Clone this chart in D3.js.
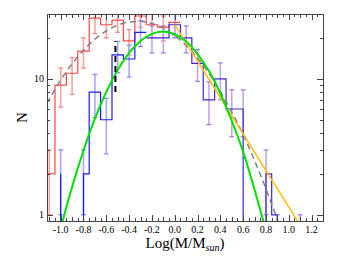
<!DOCTYPE html>
<html>
<head>
<meta charset="utf-8">
<script src="https://cdn.jsdelivr.net/npm/d3@7"></script>
<style>
  body { margin: 0; background: #fff; }
  text { font-family: "Liberation Serif", "DejaVu Serif", serif; fill: #000; }
</style>
</head>
<body>
<div id="chart"></div>
<script>
// red histogram (bin edges in log M, counts)
var redEdges = [-1.15, -1.05, -0.95, -0.85, -0.75, -0.65, -0.55, -0.45, -0.35, -0.25, -0.15, -0.05, 0.05];
var redCounts = [2, 9, 11, 16, 28, 25, 27, 19, 29, 25, 24, 26];
var redErrX = [-1.1, -1.0, -0.9, -0.8, -0.7, -0.6, -0.5, -0.4, -0.3, -0.2, -0.1, 0.0];
var redErrLo = [1.0, 6.2, 7.7, 12, 21.5, 20, 22, 15, 24, 20, 19, 21];
var redErrHi = [3.0, 12, 14.3, 20, 33, 30, 32, 23, 34, 30, 29, 31];

// blue histogram (low-mass part)
var blueEdges = [-1.0, -1.0, -0.8, -0.75, -0.65, -0.55, -0.45, -0.35, -0.25];
var blueCounts = [2, 0, 2, 8, 5, 15, 14, 22];
var blueErrX = [-1.0, -0.8, -0.7, -0.6, -0.5, -0.4, -0.3];
var blueErrLo = [1.0, 1.0, 5.2, 2.8, 11.1, 10.3, 17.3];
var blueErrHi = [3.0, 3.0, 10.8, 7.2, 18.9, 17.7, 26.7];

// indigo histogram (high-mass part)
var indEdges = [-0.25, -0.05, 0.05, 0.15, 0.25, 0.35, 0.45, 0.6, 0.8, 0.85, 0.9];
var indCounts = [20, 25, 20, 13, 7, 10, 6, 0, 2, 1];
var indErrX = [-0.2, -0.1, 0.0, 0.1, 0.2, 0.3, 0.4, 0.5, 0.6, 0.8, 0.9, 1.1];
var indErrLo = [15.5, 15.5, 20, 15.5, 9.6, 4.6, 7.0, 3.75, 3.75, 1.0, 0.5, 0.5];
var indErrHi = [24.5, 24.5, 30, 24.5, 16.4, 9.5, 13.1, 8.3, 8.3, 3.0, 1.0, 1.0];

// fitted curves
var grayX = [-1.12, -1.0, -0.9, -0.8, -0.7, -0.6, -0.5, -0.4, -0.3, -0.2, -0.1, 0.0, 0.1, 0.2, 0.3, 0.4, 0.5, 0.6, 0.7, 0.8, 0.9, 0.95];
var grayN = [6.6, 9.8, 12.9, 16.2, 19.6, 22.5, 24.9, 26.2, 26.5, 25.5, 23.6, 20.8, 17.6, 14.2, 11.0, 8.1, 5.7, 3.9, 2.5, 1.55, 0.92, 0.7];
var greenX = [-0.99, -0.95, -0.9, -0.8, -0.7, -0.6, -0.5, -0.4, -0.3, -0.2, -0.1, 0.0, 0.1, 0.2, 0.3, 0.4, 0.5, 0.6, 0.7, 0.78];
var greenN = [0.85, 1.14, 1.6, 2.97, 5.1, 8.0, 11.6, 15.5, 19.0, 21.4, 22.3, 21.3, 18.8, 15.2, 11.4, 7.8, 4.9, 2.9, 1.53, 0.88];
var orangeX = [0.0, 1.08];
var orangeN = [25.1, 0.89];
var cutX = -0.52;
var cutN = [8, 19];

var xTickLabels = ["-1.0", "-0.8", "-0.6", "-0.4", "-0.2", "0.0", "0.2", "0.4", "0.6", "0.8", "1.0", "1.2"];
var yTickLabels = ["1", "10"];

var width = 337, height = 267;
var margin = {top: 14, right: 14, bottom: 46, left: 47};
var floorN = 0.5;

var svg = d3.select("#chart").append("svg")
    .attr("width", width)
    .attr("height", height);

var x = d3.scaleLinear().domain([-1.12, 1.3]).range([margin.left, width - margin.right]);
var y = d3.scaleLog().domain([0.9, 30]).range([height - margin.bottom, margin.top]);

svg.append("clipPath").attr("id", "clip")
    .append("rect")
    .attr("x", margin.left).attr("y", margin.top)
    .attr("width", width - margin.left - margin.right)
    .attr("height", height - margin.top - margin.bottom);

var plot = svg.append("g").attr("clip-path", "url(#clip)");

function yy(n) { return y(n > 0 ? n : floorN); }

function stepPath(edges, counts, startFloor, endFloor) {
    var pts = [];
    if (startFloor) pts.push([x(edges[0]), yy(0)]);
    counts.forEach(function(c, i) {
        pts.push([x(edges[i]), yy(c)]);
        pts.push([x(edges[i + 1]), yy(c)]);
    });
    if (endFloor) pts.push([x(edges[edges.length - 1]), yy(0)]);
    return d3.line()(pts);
}

function errorBars(xs, lo, hi, stem, cap) {
    var g = plot.append("g");
    xs.forEach(function(xv, i) {
        g.append("line")
            .attr("x1", x(xv)).attr("x2", x(xv))
            .attr("y1", yy(lo[i])).attr("y2", yy(hi[i]))
            .attr("stroke", stem).attr("stroke-width", 1.6);
        [lo[i], hi[i]].forEach(function(v) {
            g.append("line")
                .attr("x1", x(xv) - 2.5).attr("x2", x(xv) + 2.5)
                .attr("y1", yy(v)).attr("y2", yy(v))
                .attr("stroke", cap).attr("stroke-width", 1);
        });
    });
}

// error bars first so histogram lines sit on top
errorBars(redErrX, redErrLo, redErrHi, "#f6a3a3", "#f07070");
errorBars(blueErrX, blueErrLo, blueErrHi, "#a8a8ff", "#7777ff");
errorBars(indErrX, indErrLo, indErrHi, "#c3a6ea", "#9460d8");

plot.append("path")
    .attr("d", stepPath(redEdges, redCounts, false, false))
    .attr("fill", "none").attr("stroke", "#ff4848").attr("stroke-width", 1.2);

plot.append("path")
    .attr("d", stepPath(blueEdges, blueCounts, true, false))
    .attr("fill", "none").attr("stroke", "#1a1aff").attr("stroke-width", 1.2);

plot.append("path")
    .attr("d", stepPath(indEdges, indCounts, false, true))
    .attr("fill", "none").attr("stroke", "#4326d6").attr("stroke-width", 1.2);

var curve = d3.line()
    .x(function(d) { return x(d[0]); })
    .y(function(d) { return y(d[1]); })
    .curve(d3.curveMonotoneX);

plot.append("path")
    .attr("d", curve(grayX.map(function(v, i) { return [v, grayN[i]]; })))
    .attr("fill", "none").attr("stroke", "#808080")
    .attr("stroke-width", 1.5).attr("stroke-dasharray", "6,4");

plot.append("path")
    .attr("d", curve(orangeX.map(function(v, i) { return [v, orangeN[i]]; })))
    .attr("fill", "none").attr("stroke", "#ffbf00").attr("stroke-width", 1.5);

plot.append("path")
    .attr("d", curve(greenX.map(function(v, i) { return [v, greenN[i]]; })))
    .attr("fill", "none").attr("stroke", "#00e000").attr("stroke-width", 2);

plot.append("line")
    .attr("x1", x(cutX)).attr("x2", x(cutX))
    .attr("y1", y(cutN[0])).attr("y2", y(cutN[1]))
    .attr("stroke", "#000").attr("stroke-width", 2)
    .attr("stroke-dasharray", "6,4");

// frame and ticks
var x0 = margin.left, x1 = width - margin.right, y0 = margin.top, y1 = height - margin.bottom;
var axes = svg.append("g").attr("stroke", "#444").attr("stroke-width", 1);

var xTicks = d3.range(-22, 27).map(function(i) { return i * 0.05; });
xTicks.forEach(function(t) {
    var k = Math.round(t * 20);
    var len = (k % 4 === 0) ? 6 : (k % 2 === 0 ? 4 : 3);
    var px = Math.round(x(t)) + 0.5;
    axes.append("line").attr("x1", px).attr("x2", px).attr("y1", y1).attr("y2", y1 - len);
    axes.append("line").attr("x1", px).attr("x2", px).attr("y1", y0).attr("y2", y0 + len);
});

var yTicks = [1, 2, 3, 4, 5, 6, 7, 8, 9, 10, 20];
yTicks.forEach(function(t) {
    var len = (t === 1 || t === 10) ? 6 : 3;
    var py = Math.round(y(t)) + 0.5;
    axes.append("line").attr("x1", x0).attr("x2", x0 + len).attr("y1", py).attr("y2", py);
    axes.append("line").attr("x1", x1).attr("x2", x1 - len).attr("y1", py).attr("y2", py);
});

svg.append("rect")
    .attr("x", x0 + 0.5).attr("y", y0 + 0.5)
    .attr("width", x1 - x0).attr("height", y1 - y0)
    .attr("fill", "none").attr("stroke", "#444").attr("stroke-width", 1);

svg.selectAll(".xl")
    .data(xTickLabels)
    .enter().append("text")
    .attr("x", function(d) { return x(+d); })
    .attr("y", y1 + 12)
    .attr("text-anchor", "middle")
    .style("font-size", "10px")
    .text(function(d) { return d; });

svg.selectAll(".yl")
    .data(yTickLabels)
    .enter().append("text")
    .attr("x", x0 - 3)
    .attr("y", function(d) { return y(+d) + 3.5; })
    .attr("text-anchor", "end")
    .style("font-size", "10px")
    .text(function(d) { return d; });

var title = svg.append("text")
    .attr("x", 185).attr("y", 248)
    .attr("text-anchor", "middle")
    .style("font-size", "15px");
title.append("tspan").text("Log(M/M");
title.append("tspan").attr("baseline-shift", "-25%").style("font-size", "10px")
    .style("font-style", "italic").text("sun");
title.append("tspan").text(")");

svg.append("text")
    .attr("transform", "translate(27," + ((y0 + y1) / 2) + ") rotate(-90)")
    .attr("text-anchor", "middle")
    .style("font-size", "15px")
    .text("N");
</script>
</body>
</html>
